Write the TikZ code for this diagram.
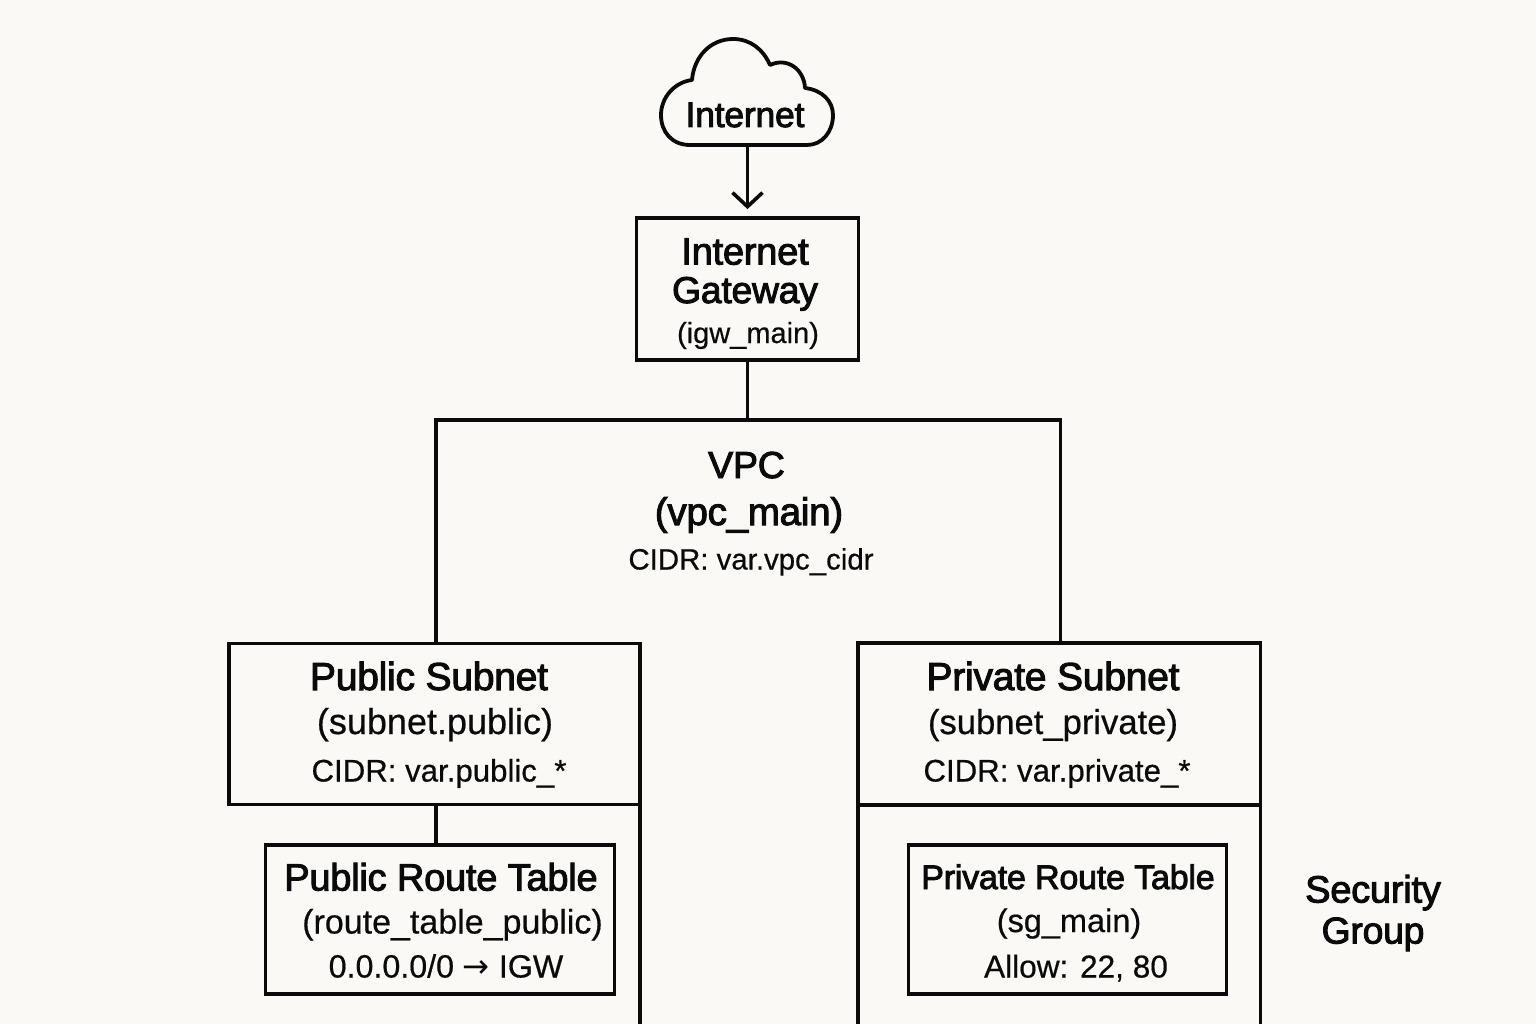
\documentclass[tikz,border=0pt]{standalone}
\usepackage{fontspec}
\setmainfont[FakeBold=0.5]{Liberation Sans}
\newfontfamily\medfont[FakeBold=2.6,LetterSpace=-0.6]{Liberation Sans}
\newfontfamily\arrowfont{DejaVu Sans}
\usetikzlibrary{arrows.meta}
\definecolor{paper}{HTML}{FAF9F6}
\definecolor{ink}{HTML}{0A0A0A}
\newcommand{\ttlsz}[1]{\medfont\fontsize{#1}{#1}\selectfont}
\newcommand{\regsz}[1]{\fontsize{#1}{#1}\selectfont}
\tikzset{
  lin/.style={draw=ink,line width=3.8pt},
  boxnode/.style={lin,rectangle,inner sep=0pt},
  lbl/.style={anchor=base,inner sep=0pt,text=ink},
}
\begin{document}
\begin{tikzpicture}[x=1pt,y=-1pt]
\fill[paper] (0,0) rectangle (1536,1024);
\useasboundingbox (0,0) rectangle (1536,1024);
% cloud
\draw[lin,line join=round,fill=none]
  (690,145) .. controls (672,145) and (661,132) .. (661,115)
  .. controls (661,97) and (675,82) .. (692,80)
  .. controls (694,56) and (711,39) .. (733,39)
  .. controls (750,39) and (763,49) .. (770,65)
  .. controls (787,57) and (804,69) .. (805,88)
  .. controls (822,90) and (833,101) .. (833,115)
  .. controls (833,132) and (822,145) .. (807,145) -- cycle;
\coordinate (cloudbase) at (747.5,145);
\node[lbl,font=\ttlsz{35.5}] (internet) at (745,127) {Internet};
% boxes
\node[boxnode,minimum width=222pt,minimum height=142pt] (igw) at (747.5,289) {};
\node[boxnode,minimum width=411pt,minimum height=161pt] (pubsub) at (434.5,724) {};
\node[boxnode,minimum width=349pt,minimum height=149pt] (pubrt) at (440,919.5) {};
\node[boxnode,minimum width=318pt,minimum height=149pt] (privrt) at (1067.5,919.5) {};
% connectors
\draw[lin,line width=3.6pt,-{Straight Barb[length=14pt,width=30pt,line width=3.6pt]},shorten >=7pt] (cloudbase) -- (igw.north);
\coordinate (vpctop) at (747.5,420);
\draw[lin] (igw.south) -- (vpctop);
\coordinate (vpcl) at (436,643);
\coordinate (vpcr) at (1060.5,643);
\draw[lin,line join=miter] (vpcl) |- (vpcr |- vpctop) -- (vpcr);
\coordinate (ptop) at (436,805);
\draw[lin] (ptop) -- (ptop |- pubrt.north);
% walls running off the page
\coordinate (pubwall) at (640,805);
\draw[lin] (pubwall) -- (640,1026);
\draw[lin,line join=miter] (858,1026) |- (1260.5,643) -- (1260.5,1026);
\coordinate (privl) at (858,805);
\coordinate (privr) at (1260.5,805);
\draw[lin] (privl) -- (privr);
% texts
\node[lbl,font=\ttlsz{38}] (t1) at (745,264.5) {Internet};
\node[lbl,font=\ttlsz{37.3}] (t2) at (745,303) {Gateway};
\node[lbl,font=\regsz{29}] (t3) at (748,343) {(igw\_main)};
\node[lbl,font=\ttlsz{37.5}] (t4) at (746.5,478) {VPC};
\node[lbl,font=\ttlsz{38.5}] (t5) at (749,525) {(vpc\_main)};
\node[lbl,font=\regsz{29.4}] (t6) at (751,569.5) {CIDR: var.vpc\_cidr};
\node[lbl,font=\ttlsz{39}] (t7) at (429,690) {Public Subnet};
\node[lbl,font=\regsz{36}] (t8) at (435,734) {(subnet.public)};
\node[lbl,font=\regsz{31.2}] (t9) at (439,781.5) {CIDR: var.public\_*};
\node[lbl,font=\ttlsz{38}] (t10) at (441,890.5) {Public Route Table};
\node[lbl,font=\regsz{34}] (t11) at (452.5,933.5) {(route\_table\_public)};
\node[lbl,font=\regsz{32.2}] (t12) at (446,977.5) {0.0.0.0/0 {\arrowfont→} IGW};
\node[lbl,font=\ttlsz{39}] (t13) at (1053,690) {Private Subnet};
\node[lbl,font=\regsz{34.6}] (t14) at (1053,734) {(subnet\_private)};
\node[lbl,font=\regsz{31.2}] (t15) at (1057,781.5) {CIDR: var.private\_*};
\node[lbl,font=\ttlsz{34}] (t16) at (1068,889) {Private Route Table};
\node[lbl,font=\regsz{32.5}] (t17) at (1069,932) {(sg\_main)};
\node[lbl,font=\regsz{31.6}] (t18) at (1076,977.5) {Allow: 22, 80};
\node[lbl,font=\ttlsz{38}] (t19) at (1373,902.5) {Security};
\node[lbl,font=\ttlsz{37.3}] (t20) at (1373,943.5) {Group};
\end{tikzpicture}
\end{document}
